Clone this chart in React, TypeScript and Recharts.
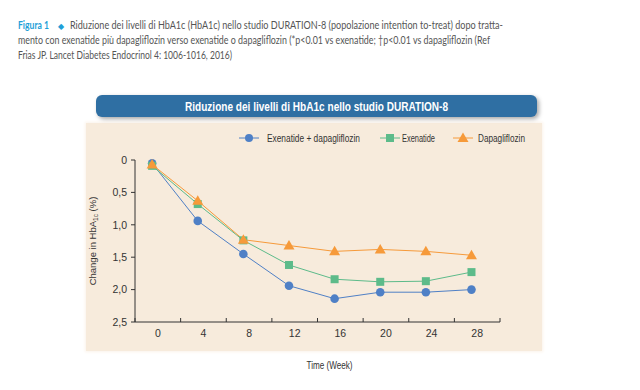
import React from 'react';
import { Label, Legend, Line, LineChart, XAxis, YAxis } from 'recharts';

const weekLabels = ['0', '4', '8', '12', '16', '20', '24', '28'];
const weeks = [0, 4, 8, 12, 16, 20, 24, 28];
const exenatideDapa = [0.05, 0.94, 1.45, 1.94, 2.14, 2.04, 2.04, 2.0];
const exenatide = [0.09, 0.68, 1.24, 1.62, 1.84, 1.88, 1.87, 1.73];
const dapagliflozin = [0.07, 0.63, 1.23, 1.32, 1.41, 1.38, 1.41, 1.47];
const yTicks = [0, 0.5, 1, 1.5, 2, 2.5];
// excel style axis: band edges (even index) and band centres (odd index), in weeks
const xTicks = [
  -1.5, 0.5, 2.5, 4.5, 6.5, 8.5, 10.5, 12.5, 14.5, 16.5, 18.5, 20.5, 22.5, 24.5, 26.5, 28.5, 30.5,
];

const data = weeks.map((w, i) => ({
  week: w,
  combo: exenatideDapa[i],
  exe: exenatide[i],
  dapa: dapagliflozin[i],
}));

const BLUE = '#4f80c6';
const GREEN = '#5dbb8a';
const ORANGE = '#f69a3a';
const SANS = '"Liberation Sans", Arial, sans-serif';
const LIGHT = 'Lato, "Open Sans", sans-serif';

const circleDot = (p: any) => <circle key={p.index} cx={p.cx} cy={p.cy} r={4.3} fill={BLUE} />;
const squareDot = (p: any) => (
  <rect key={p.index} x={p.cx - 4} y={p.cy - 4} width={8} height={8} fill={GREEN} />
);
const triangleDot = (p: any) => (
  <polygon
    key={p.index}
    points={`${p.cx},${p.cy - 5.5} ${p.cx - 5.5},${p.cy + 4} ${p.cx + 5.5},${p.cy + 4}`}
    fill={ORANGE}
  />
);

const WeekTick = (props: any) => {
  const { x, y, index } = props;
  if (index % 2 === 0) {
    return <line x1={x} x2={x} y1={y - 4} y2={y} stroke="#333" />;
  }
  return (
    <text x={x} y={y + 15} textAnchor="middle" fontSize={10.5} fill="#333" fontFamily={SANS}>
      {weekLabels[(index - 1) / 2]}
    </text>
  );
};

const YLabel = ({ viewBox }: any) => {
  const cx = viewBox.x + 13;
  const cy = viewBox.y + viewBox.height / 2;
  return (
    <text
      transform={`rotate(-90 ${cx} ${cy})`}
      x={cx}
      y={cy + 3}
      textAnchor="middle"
      fontSize={9.5}
      fill="#333"
      fontFamily={SANS}
    >
      Change in HbA<tspan fontSize={6.5} dy={2}>1c</tspan>
      <tspan dy={-2}> (%)</tspan>
    </text>
  );
};

const XLabel = ({ viewBox }: any) => {
  const cx = viewBox.x + viewBox.width / 2 + 12;
  const y = viewBox.y + viewBox.height - 3;
  return (
    <text
      x={cx - 23}
      y={y}
      textLength={46}
      lengthAdjust="spacingAndGlyphs"
      fontSize={10}
      fill="#333"
      fontFamily={SANS}
    >
      Time (Week)
    </text>
  );
};

// legend: label, colour, marker, text width
const legendNames = ['Exenatide + dapagliflozin', 'Exenatide', 'Dapagliflozin'];
const legendColors = [BLUE, GREEN, ORANGE];
const legendStarts = [0, 141, 214];
const legendTextGap = [28, 22, 25];
const legendTextWidth = [93, 33, 47];

const LegendContent = () => (
  <svg width={300} height={14}>
    {legendNames.map((name, i) => {
      const x0 = legendStarts[i];
      const c = legendColors[i];
      return (
        <g key={name}>
          <line x1={x0} x2={x0 + 20} y1={7} y2={7} stroke={c} />
          {i === 0 && <circle cx={x0 + 10} cy={7} r={4} fill={c} />}
          {i === 1 && <rect x={x0 + 6} y={3} width={8} height={8} fill={c} />}
          {i === 2 && (
            <polygon points={`${x0 + 10},1.5 ${x0 + 4.5},11 ${x0 + 15.5},11`} fill={c} />
          )}
          <text
            x={x0 + legendTextGap[i]}
            y={10.5}
            textLength={legendTextWidth[i]}
            lengthAdjust="spacingAndGlyphs"
            fontSize={10}
            fill="#333"
            fontFamily={SANS}
          >
            {name}
          </text>
        </g>
      );
    })}
  </svg>
);

const caption1 =
  'Riduzione dei livelli di HbA1c (HbA1c) nello studio DURATION-8 (popolazione intention to-treat) dopo tratta-';
const caption2 =
  'mento con exenatide più dapagliflozin verso exenatide o dapagliflozin (*p<0.01 vs exenatide; †p<0.01 vs dapagliflozin (Ref';
const caption3 = 'Frias JP. Lancet Diabetes Endocrinol 4: 1006-1016, 2016)';

export default function App() {
  return (
    <div
      style={{
        position: 'absolute',
        left: 0,
        top: 0,
        width: 640,
        height: 390,
        background: '#fff',
        overflow: 'hidden',
      }}
    >
      <svg width={640} height={70} style={{ position: 'absolute', left: 0, top: 0 }}>
        <g fontFamily={LIGHT} fontSize={11} fill="#555" fontWeight={400}>
          <text x={18} y={29} textLength={31} lengthAdjust="spacingAndGlyphs" fill="#1f9fd8" fontWeight={700}>
            Figura 1
          </text>
          <text x={58} y={29} fill="#1f9fd8" fontSize={8}>
            ◆
          </text>
          <text x={70} y={29} textLength={433} lengthAdjust="spacingAndGlyphs">
            {caption1}
          </text>
          <text x={18} y={44} textLength={472} lengthAdjust="spacingAndGlyphs">
            {caption2}
          </text>
          <text x={18} y={59} textLength={214} lengthAdjust="spacingAndGlyphs">
            {caption3}
          </text>
        </g>
      </svg>

      <div
        style={{
          position: 'absolute',
          left: 86,
          top: 123,
          width: 456,
          height: 228,
          background: '#f7ebdc',
          boxShadow: '0 0 3px 1px #fbf3ea',
        }}
      />
      <div
        style={{
          position: 'absolute',
          left: 96,
          top: 95,
          width: 441,
          height: 22,
          borderRadius: 6,
          background: '#2f6fa3',
          boxShadow: '2px 2px 4px rgba(0,0,0,0.35)',
        }}
      >
        <svg width={441} height={22}>
          <text
            x={89}
            y={15.5}
            textLength={263}
            lengthAdjust="spacingAndGlyphs"
            fontSize={13}
            fontWeight="bold"
            fill="#fff"
            fontFamily={SANS}
          >
            Riduzione dei livelli di HbA1c nello studio DURATION-8
          </text>
        </svg>
      </div>

      <div style={{ position: 'absolute', left: 80, top: 122 }}>
        <LineChart width={465} height={250} data={data} margin={{ top: 20, right: 45, bottom: 0, left: 0 }}>
          <XAxis
            dataKey="week"
            type="number"
            domain={[-1.5, 30.5]}
            ticks={xTicks}
            interval={0}
            tick={<WeekTick />}
            tickLine={false}
            tickSize={0}
            tickMargin={0}
            height={50}
            axisLine={{ stroke: '#333' }}
          >
            <Label content={<XLabel />} />
          </XAxis>
          <YAxis
            reversed
            domain={[0, 2.5]}
            ticks={yTicks}
            width={55}
            tickSize={4}
            tickMargin={4}
            tickFormatter={(v: number) => (v === 0 ? '0' : v.toFixed(1).replace('.', ','))}
            tick={{ fontSize: 10.5, fill: '#333', fontFamily: SANS }}
            axisLine={{ stroke: '#333' }}
            tickLine={{ stroke: '#333' }}
          >
            <Label content={<YLabel />} />
          </YAxis>
          <Legend
            verticalAlign="top"
            content={<LegendContent />}
            wrapperStyle={{ position: 'absolute', top: 9, left: 159, width: 300 }}
          />
          <Line dataKey="combo" stroke={BLUE} strokeWidth={1} dot={circleDot} isAnimationActive={false} />
          <Line dataKey="exe" stroke={GREEN} strokeWidth={1} dot={squareDot} isAnimationActive={false} />
          <Line dataKey="dapa" stroke={ORANGE} strokeWidth={1} dot={triangleDot} isAnimationActive={false} />
        </LineChart>
      </div>
    </div>
  );
}
